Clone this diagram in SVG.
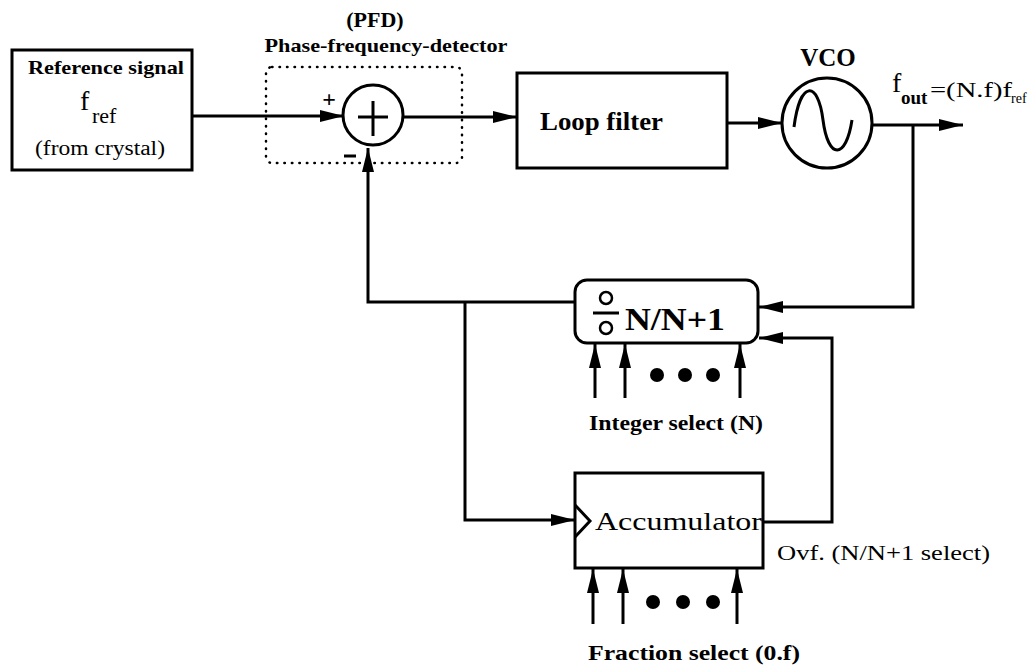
<svg xmlns="http://www.w3.org/2000/svg" width="1033" height="671" viewBox="0 0 1033 671">
<style>
.box{fill:#fff;stroke:#000;stroke-width:3}
.ln{fill:none;stroke:#000;stroke-width:3}
.arr{marker-end:url(#ah)}
text{font-family:'Liberation Serif','Times New Roman',Times,serif;fill:#000}
.b{font-weight:bold}
.dot{fill:#000}
</style>
<defs>
<marker id="ah" markerUnits="userSpaceOnUse" markerWidth="26" markerHeight="16" refX="24" refY="8" orient="auto">
<path d="M0,2 L24,8 L0,14 Z" fill="#000"/>
</marker>
</defs>
<rect width="1033" height="671" fill="#fff"/>
<g id="connectors">
<path class="ln arr" d="M192,116 L344,116"/>
<path class="ln arr" d="M404,117 L517,117"/>
<path class="ln arr" d="M727,123 L782,123"/>
<path class="ln arr" d="M872,125 L963,125"/>
<path class="ln arr" d="M913,125 L913,307 L759,307"/>
<path class="ln arr" d="M575,302 L368,302 L368,148"/>
<path class="ln arr" d="M465,302 L465,520 L575,520"/>
<path class="ln arr" d="M763,522 L832,522 L832,338 L759,338"/>
<path class="ln arr" d="M595,398 L595,344"/>
<path class="ln arr" d="M625,398 L625,344"/>
<path class="ln arr" d="M740,398 L740,344"/>
<path class="ln arr" d="M593,624 L593,569"/>
<path class="ln arr" d="M623,624 L623,569"/>
<path class="ln arr" d="M737,624 L737,569"/>
</g>
<g id="ref">
<rect class="box" x="12" y="50" width="180" height="120"/>
<text class="b" x="106" y="74" font-size="19" text-anchor="middle" textLength="156" lengthAdjust="spacingAndGlyphs">Reference signal</text>
<text x="80" y="110" font-size="28">f</text>
<text x="92" y="123" font-size="22">ref</text>
<text x="100" y="155" font-size="20" text-anchor="middle" textLength="130" lengthAdjust="spacingAndGlyphs">(from crystal)</text>
</g>
<g id="pfd">
<rect x="266" y="67" width="196" height="96" rx="6" fill="none" stroke="#000" stroke-width="2.5" stroke-dasharray="0.5,7" stroke-linecap="round"/>
<text class="b" x="375" y="27" font-size="22" text-anchor="middle">(PFD)</text>
<text class="b" x="386" y="52" font-size="19" text-anchor="middle" textLength="243" lengthAdjust="spacingAndGlyphs">Phase-frequency-detector</text>
<circle class="box" cx="373" cy="115" r="30"/>
<path class="ln" d="M358,117 L388,117 M373,101 L373,136"/>
<text class="b" x="329" y="107" font-size="24" text-anchor="middle">+</text>
<path class="ln" d="M344,156 L356,156"/>
</g>
<g id="loopfilter">
<rect class="box" x="517" y="73" width="210" height="95"/>
<text class="b" x="540" y="130" font-size="25" textLength="123" lengthAdjust="spacingAndGlyphs">Loop filter</text>
</g>
<g id="vco">
<circle class="box" cx="827" cy="123" r="45"/>
<path class="ln" d="M794,127 C800,80 818,80 823,120 C828,160 846,160 852,120"/>
<text class="b" x="828" y="66" font-size="25" text-anchor="middle">VCO</text>
<text x="892" y="92" font-size="28">f</text>
<text class="b" x="901" y="104" font-size="19">out</text>
<text x="930" y="97" font-size="22" textLength="82" lengthAdjust="spacingAndGlyphs">=(N.f)f</text>
<text x="1011" y="103" font-size="14">ref</text>
</g>
<g id="divider">
<rect class="box" x="575" y="280" width="183" height="63" rx="12"/>
<circle cx="606" cy="298" r="6" fill="none" stroke="#000" stroke-width="2.5"/>
<circle cx="606" cy="328" r="6" fill="none" stroke="#000" stroke-width="2.5"/>
<path class="ln" d="M593,313 L619,313"/>
<text class="b" x="625" y="330" font-size="31" textLength="100" lengthAdjust="spacingAndGlyphs">N/N+1</text>
<circle class="dot" cx="657" cy="375" r="7"/>
<circle class="dot" cx="685" cy="375" r="7"/>
<circle class="dot" cx="713" cy="375" r="7"/>
<text class="b" x="589" y="430" font-size="20" textLength="174" lengthAdjust="spacingAndGlyphs">Integer select (N)</text>
</g>
<g id="accumulator">
<rect class="box" x="575" y="473" width="188" height="95"/>
<path class="ln" d="M575,505 L590,521 L575,537" stroke-width="2.5"/>
<text x="595" y="530" font-size="25" textLength="167" lengthAdjust="spacingAndGlyphs">Accumulator</text>
<text x="777" y="560" font-size="21" textLength="213" lengthAdjust="spacingAndGlyphs">Ovf. (N/N+1 select)</text>
<circle class="dot" cx="653" cy="602" r="7"/>
<circle class="dot" cx="683" cy="602" r="7"/>
<circle class="dot" cx="713" cy="602" r="7"/>
<text class="b" x="588" y="660" font-size="21" textLength="212" lengthAdjust="spacingAndGlyphs">Fraction select (0.f)</text>
</g>
</svg>
